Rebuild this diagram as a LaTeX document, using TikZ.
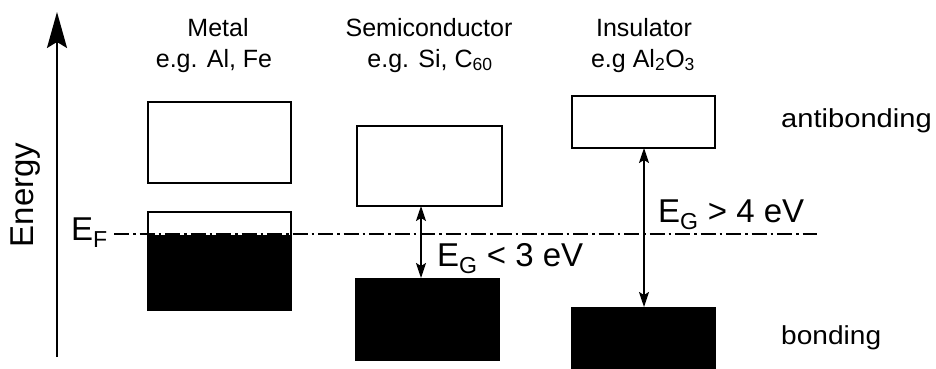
\documentclass[tikz,border=0pt]{standalone}
\usepackage{fontspec}
\setmainfont{Liberation Sans}
\usetikzlibrary{arrows.meta}
\begin{document}
\begin{tikzpicture}[x=1pt,y=-1pt,
  band/.style={draw=black,line width=2pt,fill=white,inner sep=0pt,outer sep=0pt},
  filled/.style={fill=black,draw=none,inner sep=0pt,outer sep=0pt},
  head/.style={font=\fontsize{25}{30}\selectfont,inner sep=0pt,anchor=base},
  big/.style={font=\fontsize{33}{40}\selectfont,inner sep=0pt,anchor=base west},
  side/.style={font=\fontsize{26}{30}\selectfont,inner sep=0pt,anchor=base west},
  gap/.style={line width=1.8pt,{Stealth[length=15pt,width=10pt,inset=3pt]}-{Stealth[length=15pt,width=10pt,inset=3pt]}},
  fermi/.style={line width=1.3pt,dash pattern=on 15pt off 4pt on 2.5pt off 4pt}
]
\useasboundingbox (0,0) rectangle (936,369);
% energy axis
\coordinate (ax0) at (57,357);
\coordinate (ax1) at (57,12);
\draw[line width=2pt,-{Stealth[length=36pt,width=20pt,inset=6pt]}] (ax0) -- (ax1);
\node[font=\fontsize{33}{40}\selectfont,inner sep=0pt,anchor=base,rotate=90] (energy) at (33,195) {Energy};
% headers
\node[head] (metal) at (218,37) {Metal};
\node[head] (metalex) at (214,67) {e.g. Al, Fe};
\node[head] (semi) at (429,37) {Semiconductor};
\node[head] (semiex) at (430,67) {e.g. Si, C\textsubscript{60}};
\node[head] (ins) at (644,37) {Insulator};
\node[head] (insex) at (643,67) {e.g Al\textsubscript{2}O\textsubscript{3}};
% metal bands
\node[band,minimum width=143pt,minimum height=81pt] (mtop) at (219.5,142.5) {};
\node[band,minimum width=143pt,minimum height=24pt] (mlow) at (219.5,224) {};
\node[filled,minimum width=145pt,minimum height=76pt] (mfill) at (219.5,273) {};
% semiconductor bands
\node[band,minimum width=145pt,minimum height=80pt] (stop) at (429.5,166) {};
\node[filled,minimum width=145pt,minimum height=83pt] (sbot) at (427.5,319.5) {};
% insulator bands
\node[band,minimum width=143pt,minimum height=52pt] (itop) at (643.5,122) {};
\node[filled,minimum width=145pt,minimum height=64pt] (ibot) at (643.5,339) {};
% Fermi level
\node[big] (ef) at (71,240) {E\textsubscript{F}};
\coordinate (efend) at (817,234);
\draw[fermi] (ef.east |- efend) ++(6,0) coordinate (efstart) -- (efend);
% gap arrows
\coordinate (sx) at (421,0);
\coordinate (ix) at (644,0);
\draw[gap] (sx |- stop.south) -- (sx |- sbot.north);
\draw[gap] (ix |- itop.south) -- (ix |- ibot.north);
\node[big] (eg1) at (437,266) {E\textsubscript{G} < 3 eV};
\node[big] (eg2) at (658,222) {E\textsubscript{G} > 4 eV};
% side labels
\node[side] (anti) at (781,127) {\scalebox{1.12}[1]{antibonding}};
\node[side] (bond) at (781,344) {\scalebox{1.08}[1]{bonding}};
\end{tikzpicture}
\end{document}
